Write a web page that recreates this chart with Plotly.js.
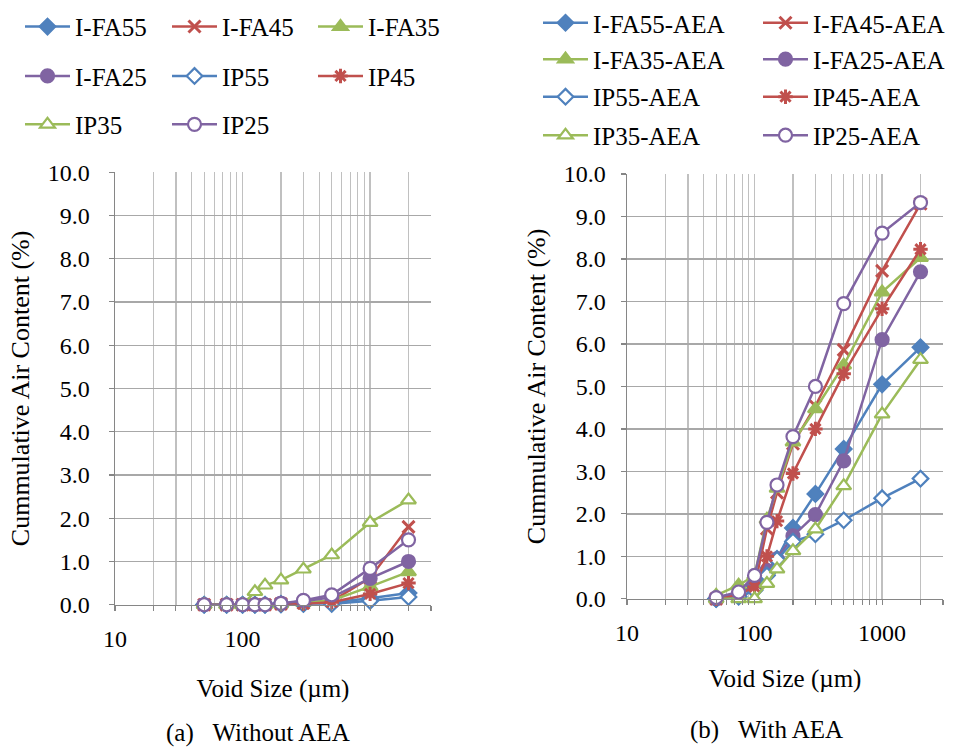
<!DOCTYPE html>
<html>
<head>
<meta charset="utf-8">
<script src="https://cdn.plot.ly/plotly-3.0.1.min.js"></script>
<style>
html,body{margin:0;padding:0;background:#fff;}
#chart{width:956px;height:748px;}
.js-plotly-plot svg text { font-family: 'Liberation Serif', serif !important; }
</style>
</head>
<body>
<div id="chart"></div>
<script>
// ---------------- data ----------------
var voidSize = [50, 75, 100, 125, 150, 200, 300, 500, 1000, 2000];

// (a) Without AEA
var seriesNamesA = ['I-FA55', 'I-FA45', 'I-FA35', 'I-FA25', 'IP55', 'IP45', 'IP35', 'IP25'];
var ifa55 = [0, 0, 0, 0, 0, 0.02, 0.03, 0.05, 0.15, 0.27];
var ifa45 = [0, 0, 0, 0, 0, 0.02, 0.04, 0.08, 0.62, 1.80];
var ifa35 = [0, 0, 0, 0, 0, 0.02, 0.05, 0.10, 0.42, 0.76];
var ifa25 = [0, 0, 0, 0, 0, 0.03, 0.08, 0.17, 0.61, 1.00];
var ip55  = [0, 0, 0, 0, 0, 0.01, 0.02, 0.02, 0.09, 0.18];
var ip45  = [0, 0, 0, 0, 0, 0.01, 0.02, 0.06, 0.25, 0.50];
var ip35  = [0, 0, 0, 0.30, 0.45, 0.57, 0.82, 1.15, 1.90, 2.42];
var ip25  = [0, 0, 0, 0, 0, 0.03, 0.10, 0.23, 0.84, 1.50];

// (b) With AEA
var seriesNamesB = ['I-FA55-AEA', 'I-FA45-AEA', 'I-FA35-AEA', 'I-FA25-AEA', 'IP55-AEA', 'IP45-AEA', 'IP35-AEA', 'IP25-AEA'];
var ifa55aea = [0, 0.10, 0.30, 0.59, 0.94, 1.67, 2.47, 3.53, 5.05, 5.92];
var ifa45aea = [0, 0.15, 0.30, 1.65, 2.50, 3.65, 4.54, 5.86, 7.72, 9.30];
var ifa35aea = [0.08, 0.32, 0.55, 1.87, 2.60, 3.69, 4.47, 5.50, 7.22, 8.03];
var ifa25aea = [0, 0.12, 0.28, 0.67, 0.94, 1.48, 1.98, 3.25, 6.10, 7.70];
var ip55aea  = [0, 0.05, 0.20, 0.55, 0.92, 1.35, 1.52, 1.85, 2.37, 2.83];
var ip45aea  = [0, 0.10, 0.28, 1.00, 1.83, 2.95, 4.00, 5.30, 6.83, 8.23];
var ip35aea  = [0, 0, 0, 0.36, 0.70, 1.13, 1.64, 2.66, 4.35, 5.63];
var ip25aea  = [0.03, 0.16, 0.55, 1.80, 2.68, 3.82, 5.00, 6.95, 8.61, 9.33];

var yTickLabels = ['0.0','1.0','2.0','3.0','4.0','5.0','6.0','7.0','8.0','9.0','10.0'];
var xMajorLabels = ['10', '100', '1000'];

// ---------------- styles ----------------
var BLUE = '#4F81BD', RED = '#C0504D', GREEN = '#9BBB59', PURPLE = '#8064A2';
var styles = [
  {color: BLUE,   symbol: 'diamond',     fill: BLUE,   size: 12},
  {color: RED,    symbol: 'x-thin',      fill: RED,    size: 12},
  {color: GREEN,  symbol: 'triangle-up', fill: GREEN,  size: 13},
  {color: PURPLE, symbol: 'circle',      fill: PURPLE, size: 13},
  {color: BLUE,   symbol: 'diamond',     fill: '#fff', size: 12},
  {color: RED,    symbol: 'asterisk',    fill: RED,    size: 12},
  {color: GREEN,  symbol: 'triangle-up', fill: '#fff', size: 13},
  {color: PURPLE, symbol: 'circle',      fill: '#fff', size: 13}
];

var FONT = 'Liberation Serif, serif';

var dataA = [ifa55, ifa45, ifa35, ifa25, ip55, ip45, ip35, ip25];
var dataB = [ifa55aea, ifa45aea, ifa35aea, ifa25aea, ip55aea, ip45aea, ip35aea, ip25aea];

// legend positions: text start x (px), row centre y (px)
var legPosA = [[75,18],[222,18],[368,18],[75,68],[222,68],[368,68],[75,117],[222,117]];
var legPosB = [[593,14],[813,14],[593,51],[813,51],[593,89],[813,89],[593,128],[813,128]];

var W = 956, H = 748;
var TEXTGAP = 55;

var traces = [];
var layout = {
  width: W, height: H,
  margin: {l: 0, r: 0, t: 0, b: 0},
  paper_bgcolor: '#fff', plot_bgcolor: '#fff',
  font: {family: FONT, size: 24, color: '#000'},
  showlegend: true
};

function mkTrace(name, y, st, xa, ya, legId) {
  var lineSym = (st.symbol === 'x-thin' || st.symbol === 'asterisk');
  return {
    type: 'scatter', mode: 'lines+markers', name: name,
    x: voidSize, y: y, xaxis: xa, yaxis: ya, legend: legId,
    line: {color: st.color, width: 2.5},
    marker: {
      symbol: st.symbol, size: st.size, color: st.fill,
      line: {color: st.color, width: lineSym ? 3 : 2.2}
    },
    cliponaxis: false
  };
}

function legendObj(pos) {
  return {
    orientation: 'h', x: (pos[0] - TEXTGAP) / W, xanchor: 'left',
    y: 1 - pos[1] / H, yanchor: 'middle',
    bgcolor: 'rgba(0,0,0,0)', borderwidth: 0,
    font: {family: FONT, size: 25, color: '#000'},
    itemwidth: 45, itemclick: false, itemdoubleclick: false
  };
}

var legCount = 0;
function nextLegend(pos) {
  legCount++;
  var id = legCount === 1 ? 'legend' : 'legend' + legCount;
  layout[id] = legendObj(pos);
  return id;
}

for (var i = 0; i < 8; i++) {
  traces.push(mkTrace(seriesNamesA[i], dataA[i], styles[i], 'x', 'y', nextLegend(legPosA[i])));
}
for (var j = 0; j < 8; j++) {
  traces.push(mkTrace(seriesNamesB[j], dataB[j], styles[j], 'x2', 'y2', nextLegend(legPosB[j])));
}

// log tick positions (every integer multiple), labels only at decades
var xTickVals = [], xTickText = [];
[10, 100, 1000].forEach(function (dec, k) {
  for (var m = 1; m <= 9; m++) {
    var v = dec * m;
    if (v > 3000) break;
    xTickVals.push(v);
    xTickText.push(m === 1 ? xMajorLabels[k] : '');
  }
});

function xAxis(domain, anchor, titleStandoff) {
  return {
    type: 'log', domain: domain, anchor: anchor,
    range: [1, Math.log10(3000) + 0.0002],
    tickmode: 'array', tickvals: xTickVals, ticktext: xTickText,
    ticks: 'outside', ticklen: 5, tickwidth: 1.2, tickcolor: '#868686',
    ticklabelstandoff: 7,
    showline: true, linecolor: '#868686', linewidth: 1.5,
    showgrid: true, gridcolor: '#c0c0c0', gridwidth: 1.3,
    zeroline: false,
    tickfont: {family: FONT, size: 24, color: '#000'},
    title: {text: 'Void Size (\u00b5m)', font: {family: FONT, size: 25, color: '#000'}, standoff: titleStandoff},
    fixedrange: true
  };
}
function yAxis(domain, anchor, standoff, titleStandoff) {
  return {
    domain: domain, anchor: anchor,
    range: [0, 10.002],
    tickmode: 'array', tickvals: [0,1,2,3,4,5,6,7,8,9,10], ticktext: yTickLabels,
    ticks: 'outside', ticklen: 5, tickwidth: 1.2, tickcolor: '#868686',
    ticklabelstandoff: standoff,
    showline: true, linecolor: '#868686', linewidth: 1.5,
    showgrid: true, gridcolor: '#a8a8a8', gridwidth: 1.3,
    zeroline: false,
    tickfont: {family: FONT, size: 24, color: '#000'},
    title: {text: 'Cummulative Air Content (%)', font: {family: FONT, size: 26, color: '#000'}, standoff: titleStandoff},
    fixedrange: true
  };
}

layout.xaxis  = xAxis([115 / W, 431 / W], 'y', 28);
layout.yaxis  = yAxis([1 - 603 / H, 1 - 165 / H], 'x', 14, 10);
layout.xaxis2 = xAxis([627 / W, 943 / W], 'y2', 24);
layout.yaxis2 = yAxis([1 - 597 / H, 1 - 167 / H], 'x2', 10, 10);

layout.annotations = [
  {text: '(a)\u00a0\u00a0\u00a0Without AEA', xref: 'paper', yref: 'paper', x: 258 / W, y: 1 - 733 / H,
   xanchor: 'center', yanchor: 'middle', showarrow: false, font: {family: FONT, size: 25, color: '#000'}},
  {text: '(b)\u00a0\u00a0\u00a0With AEA', xref: 'paper', yref: 'paper', x: 766 / W, y: 1 - 730 / H,
   xanchor: 'center', yanchor: 'middle', showarrow: false, font: {family: FONT, size: 25, color: '#000'}}
];

Plotly.newPlot('chart', traces, layout, {displayModeBar: false, staticPlot: true});
</script>
</body>
</html>
